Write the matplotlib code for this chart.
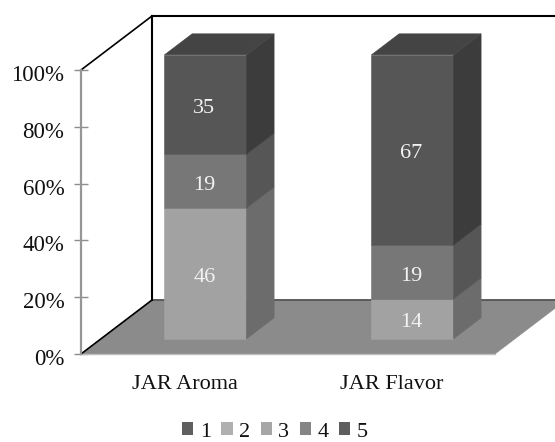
import matplotlib
matplotlib.use('Agg')
import matplotlib.pyplot as plt
from matplotlib.patches import Patch, Polygon
from matplotlib.transforms import ScaledTranslation

plt.rcParams['font.family'] = ['Liberation Serif', 'DejaVu Serif']

categories = ['JAR Aroma', 'JAR Flavor']
series_names = ['1', '2', '3', '4', '5']
series_values = {
    '1': [0, 0],
    '2': [0, 0],
    '3': [46, 14],
    '4': [19, 19],
    '5': [35, 67],
}
front_colors = ['#5c5c5c', '#b2b2b2', '#a2a2a2', '#777777', '#565656']
side_colors = ['#444444', '#808080', '#6c6c6c', '#565656', '#3c3c3c']
legend_colors = ['#5f5f5f', '#b0b0b0', '#a6a6a6', '#858585', '#5e5e5e']
top_color = '#444444'
yticks = [0, 20, 40, 60, 80, 100]

W, H = 555, 442

# oblique projection: how far the back wall sits from the front plane, in data units
DEPTH_X = 71 / 207
DEPTH_Y = 54 / 2.84
BAR_WIDTH = 82 / 207
BAR_D0, BAR_D1 = 0.28, 0.67
BAR_SHIFT = 0.005


def project(x, y, d):
    return (x + d * DEPTH_X, y + d * DEPTH_Y)


fig = plt.figure(figsize=(W / 100, H / 100), dpi=100)
ax = fig.add_axes([81 / W, (H - 354) / H, 414 / W, 284 / H])
ax.set_xlim(0, 2)
ax.set_ylim(0, 100)
ax.patch.set_visible(False)


def add_poly(points, color, z):
    ax.add_patch(Polygon(points, closed=True, facecolor=color, edgecolor=color,
                         linewidth=0.4, zorder=z, clip_on=False))


# floor and walls
add_poly([project(0, 0, 0), project(2, 0, 0), project(2, 0, 1), project(0, 0, 1)], '#8b8b8b', 1)
ax.plot(*zip(project(0, 0, 1), project(2, 0, 1)), color='#555555', lw=1.3, zorder=2, clip_on=False)
ax.plot(*zip(project(0, 0, 0), project(2, 0, 0)), color='#bdbdbd', lw=1.0, zorder=2, clip_on=False)
ax.plot(*zip(project(0, 0, 1), project(0, 100, 1)), color='black', lw=1.5, zorder=2, clip_on=False)
ax.plot(*zip(project(0, 100, 1), project(2, 100, 1)), color='black', lw=1.5, zorder=2, clip_on=False)
ax.plot(*zip(project(0, 0, 0), project(0, 0, 1)), color='black', lw=1.2, zorder=2, clip_on=False)
ax.plot(*zip(project(0, 100, 0), project(0, 100, 1)), color='black', lw=1.2, zorder=2, clip_on=False)

# stacked boxes
for i, cat in enumerate(categories):
    x0 = i + 0.5 - BAR_WIDTH / 2 + BAR_D0 * DEPTH_X + BAR_SHIFT
    x1 = x0 + BAR_WIDTH
    # the box stands on the floor, so its front face starts above the axis baseline
    base = BAR_D0 * DEPTH_Y
    d = BAR_D1 - BAR_D0
    bottom = 0
    for j, name in enumerate(series_names):
        v = series_values[name][i]
        if v == 0:
            continue
        y0, y1 = base + bottom, base + bottom + v
        add_poly([(x0, y0), (x1, y0), (x1, y1), (x0, y1)], front_colors[j], 3)
        add_poly([(x1, y0), project(x1, y0, d), project(x1, y1, d), (x1, y1)], side_colors[j], 3)
        ax.text((x0 + x1) / 2 - 0.005, (y0 + y1) / 2 - 1.4, str(v), color='#f2f2f2', fontsize=16,
                ha='center', va='center', zorder=5)
        bottom += v
    top = base + bottom
    add_poly([(x0, top), (x1, top), project(x1, top, d), project(x0, top, d)], top_color, 3)

ax.set_yticks(yticks)
ax.set_yticklabels([f'{t}%' for t in yticks], fontsize=16.5, color='#111111')
ax.set_xticks([0.5, 1.5])
ax.set_xticklabels(categories, fontsize=16, color='#111111')
ax.tick_params(axis='y', direction='inout', length=10, width=1.0, color='#8c8c8c', pad=7)
ax.tick_params(axis='x', length=0, pad=15)

# percent labels sit a little below their tick marks
label_shift = ScaledTranslation(0, -3 / 100, fig.dpi_scale_trans)
for label in ax.get_yticklabels():
    label.set_transform(label.get_transform() + label_shift)

for side in ['top', 'right', 'bottom']:
    ax.spines[side].set_visible(False)
ax.spines['left'].set_color('#969696')
ax.spines['left'].set_linewidth(1.6)

handles = [Patch(facecolor=c, edgecolor='none') for c in legend_colors]
fig.legend(handles, series_names, ncol=5, frameon=False, fontsize=16,
           loc='center', bbox_to_anchor=(275 / W, (H - 432) / H),
           handlelength=0.5, handleheight=0.5, handletextpad=0.3,
           columnspacing=0.46, borderpad=0, labelcolor='#111111')

fig.savefig('out.png', dpi=100)
